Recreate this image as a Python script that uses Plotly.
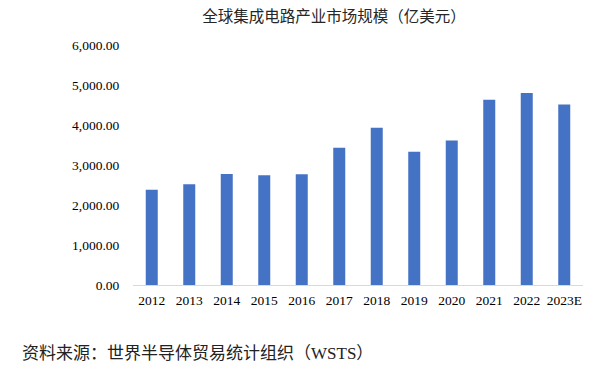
import plotly.graph_objects as go

years = ["2012", "2013", "2014", "2015", "2016", "2017", "2018", "2019", "2020", "2021", "2022", "2023E"]
market = [2382, 2518, 2773, 2745, 2767, 3432, 3933, 3334, 3612, 4630, 4799, 4515]
y_ticks = [0, 1000, 2000, 3000, 4000, 5000, 6000]

title_text = "全球集成电路产业市场规模（亿美元）"
source_text = ("资料来源：世界半导体贸易统计组织（"
               "<span style='font-family:Liberation Serif'>WSTS</span>）")

W, H = 597, 367
L, R, T, B = 133, 14, 45, 82
PW, PH = W - L - R, H - T - B

fig = go.Figure()
fig.add_trace(go.Bar(x=years, y=market, marker=dict(color="#4472C4", line=dict(width=0)),
                     width=0.32, hoverinfo="x+y"))

fig.update_layout(
    width=W, height=H,
    margin=dict(l=L, r=R, t=T, b=B),
    paper_bgcolor="white", plot_bgcolor="white",
    showlegend=False,
    font=dict(family="Liberation Serif, Times New Roman, serif", size=13.5, color="#000000"),
    title=dict(text=title_text, xref="container", x=334 / W, xanchor="center",
               yref="container", y=1 - 17 / H, yanchor="middle",
               font=dict(family="Noto Sans CJK SC", size=15.5, color="#262626")),
    xaxis=dict(type="category", showgrid=False, showline=True, linecolor="#D9D9D9", linewidth=1,
               ticks="outside", ticklen=3, tickcolor="rgba(0,0,0,0)",
               tickfont=dict(size=13.5, color="#000000")),
    yaxis=dict(range=[0, 6000], tickvals=y_ticks, tickformat=",.2f", showgrid=False,
               zeroline=False, showline=False, ticks="outside", ticklen=10,
               tickcolor="rgba(0,0,0,0)", tickfont=dict(size=13.5, color="#000000")),
    annotations=[dict(text=source_text, xref="paper", yref="paper", x=(20 - L) / PW,
                      xanchor="left", y=(H - B - 351) / PH, yanchor="middle", showarrow=False,
                      font=dict(family="Noto Sans CJK SC", size=17, color="#222222"))],
)

fig.write_html("out.html", config={"displayModeBar": False},
               post_script="document.body.style.margin='0';")
